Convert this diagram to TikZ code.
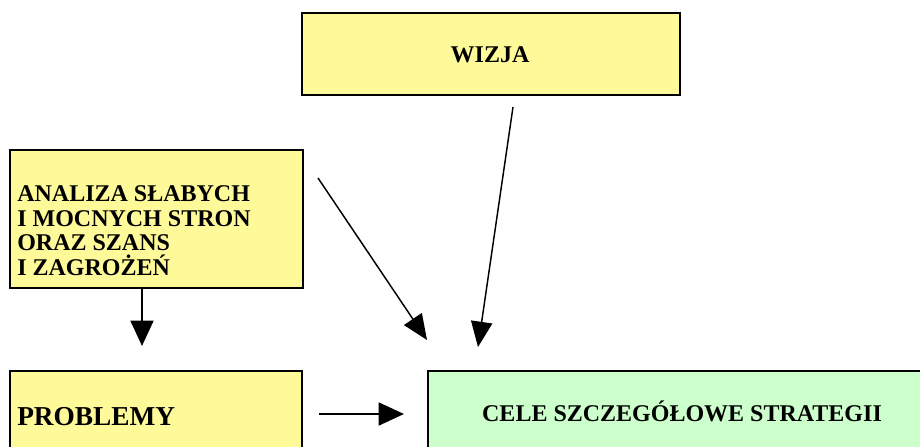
\documentclass[tikz,border=0pt]{standalone}
\usepackage{fontspec}
\setmainfont{Liberation Serif}
\usetikzlibrary{arrows.meta}

\begin{document}
\begin{tikzpicture}[
    x = 0.75pt, y = -0.75pt,
    box/.style = {draw, line width = 1.5pt, anchor = north west, inner sep = 0pt},
    txt/.style = {font = \bfseries\fontsize{18}{18.3}\selectfont, inner sep = 0pt},
    thin arrow/.style = {-{Triangle[length = 19pt, width = 16pt]}, line width = 1.1pt},
    thick arrow/.style = {-{Triangle[length = 19pt, width = 17pt]}, line width = 2.2pt}]

\clip (0,0) rectangle (920,446);

% boxes
\path (301,12) node[box, fill = yellow!40!white, minimum width = 283.5pt, minimum height = 61.5pt] (wizja) {}
      (9,149) node[box, fill = yellow!40!white, minimum width = 219.75pt, minimum height = 103.5pt] (analiza) {}
      (9,370) node[box, fill = yellow!40!white, minimum width = 219pt, minimum height = 75pt] (problemy) {}
      (427,370) node[box, fill = green!20!white, minimum width = 400pt, minimum height = 75pt] (cele) {}
      ;

% texts
\path (490,55) node[txt] (wizjaT) {WIZJA}
      (17,275) node[txt, anchor = base west, align = left] (analizaT)
          {ANALIZA SŁABYCH\\I MOCNYCH STRON\\ORAZ SZANS\\I ZAGROŻEŃ}
      (17,425) node[txt, anchor = base west, font = \bfseries\fontsize{20.5}{22}\selectfont] (problemyT) {PROBLEMY}
      (682,421) node[txt, anchor = base] (celeT) {CELE SZCZEGÓŁOWE STRATEGII}
      ;

% arrows
\coordinate (downTip) at (142,346);
\coordinate (hStart) at (319,414);
\coordinate (hTip) at (404,414);
\coordinate (sStart) at (318,178);
\coordinate (sTip) at (427,340);
\coordinate (wStart) at (513,107);
\coordinate (wTip) at (478,347);

\draw[thick arrow] (analiza.south -| downTip) -- (downTip);
\draw[thick arrow] (hStart) -- (hTip);
\draw[thin arrow] (sStart) -- (sTip);
\draw[thin arrow] (wStart) -- (wTip);
\end{tikzpicture}
\end{document}
